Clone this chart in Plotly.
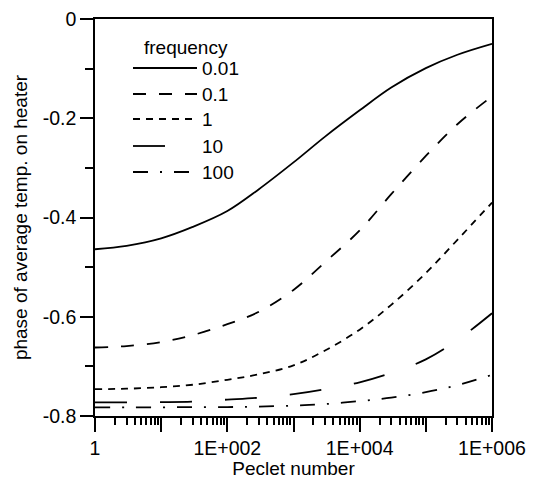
import plotly.graph_objects as go

# ---- data ----
peclet = [1, 3, 10, 30, 100, 300, 1e3, 3e3, 1e4, 3e4, 1e5, 3e5, 1e6]
freq_labels = ["0.01", "0.1", "1", "10", "100"]
phase_001 = [-0.464, -0.457, -0.442, -0.419, -0.387, -0.343, -0.289, -0.237, -0.184, -0.138, -0.099, -0.072, -0.050]
phase_01 = [-0.662, -0.659, -0.651, -0.637, -0.615, -0.590, -0.546, -0.490, -0.426, -0.353, -0.276, -0.212, -0.156]
phase_1 = [-0.746, -0.745, -0.742, -0.737, -0.727, -0.716, -0.698, -0.668, -0.626, -0.576, -0.512, -0.445, -0.370]
phase_10 = [-0.7725, -0.7725, -0.772, -0.771, -0.767, -0.763, -0.756, -0.746, -0.732, -0.713, -0.686, -0.647, -0.593]
phase_100 = [-0.7825, -0.7825, -0.7825, -0.782, -0.782, -0.781, -0.779, -0.776, -0.770, -0.763, -0.752, -0.738, -0.717]
series = [phase_001, phase_01, phase_1, phase_10, phase_100]

x_tickvals = [1, 10, 100, 1e3, 1e4, 1e5, 1e6]
x_ticktext = ["1", "", "1E+002", "", "1E+004", "", "1E+006"]
y_tickvals = [0, -0.2, -0.4, -0.6, -0.8]
y_ticktext = ["0", "-0.2", "-0.4", "-0.6", "-0.8"]

# ---- styles ----
dashes = ["solid", "13px,13px", "7px,6px", "32px,33px", "15px,12px,2px,12px"]
FONT = "Liberation Sans, Arial, sans-serif"
W, H = 533, 479
L, R, T, B = 95, 41, 19, 63
pw, ph = W - L - R, H - T - B

fig = go.Figure()
for ys, d, name in zip(series, dashes, freq_labels):
    fig.add_trace(go.Scatter(x=peclet, y=ys, mode="lines", name=name,
                             line=dict(color="black", width=1.8, dash=d, shape="spline", smoothing=1.0),
                             showlegend=False))

minor_x = [m * 10 ** e for e in range(6) for m in range(2, 10)]

fig.update_layout(
    width=W, height=H,
    margin=dict(l=L, r=R, t=T, b=B),
    paper_bgcolor="white", plot_bgcolor="white",
    font=dict(family=FONT, color="black", size=19),
    xaxis=dict(type="log", range=[0, 6], tickvals=x_tickvals, ticktext=x_ticktext,
               ticks="outside", ticklen=14, tickwidth=1.5, tickcolor="black",
               showline=True, linecolor="black", linewidth=1.5, mirror=True,
               showgrid=False, zeroline=False, automargin=False,
               minor=dict(tickvals=minor_x, ticks="outside", ticklen=7, tickwidth=1.5,
                          tickcolor="black", showgrid=False),
               tickfont=dict(size=19.5),
               title=dict(text="Peclet number", font=dict(size=19), standoff=7)),
    yaxis=dict(range=[-0.8, 0], tickvals=y_tickvals, ticktext=y_ticktext,
               ticks="outside", ticklen=13, tickwidth=1.5, tickcolor="black",
               showline=True, linecolor="black", linewidth=1.5, mirror=True,
               showgrid=False, zeroline=False, automargin=False,
               minor=dict(dtick=0.1, ticks="outside", ticklen=8, tickwidth=1.5,
                          tickcolor="black", showgrid=False),
               tickfont=dict(size=19.5),
               title=dict(text="phase of average temp. on heater", font=dict(size=19), standoff=10)),
)

# ---- custom legend ----
def px2paper(px, py):
    return (px - L) / pw, (H - B - py) / ph

fx, fy = px2paper(186, 47)
fig.add_annotation(x=fx, y=fy, xref="paper", yref="paper",
                   text="frequency", showarrow=False, font=dict(size=19), xanchor="center", yanchor="middle")
rows_y = [68, 94, 119, 146, 172]
for ry, d, name in zip(rows_y, dashes, freq_labels):
    x0, y0 = px2paper(133, ry)
    x1, _ = px2paper(197, ry)
    fig.add_shape(type="line", xref="paper", yref="paper", x0=x0, x1=x1, y0=y0, y1=y0,
                  line=dict(color="black", width=1.8, dash=d))
    tx, ty = px2paper(200, ry)
    fig.add_annotation(x=tx, y=ty, xref="paper", yref="paper", text=name, showarrow=False,
                       font=dict(size=19), xanchor="left", yanchor="middle")

fig.write_html("out.html")
